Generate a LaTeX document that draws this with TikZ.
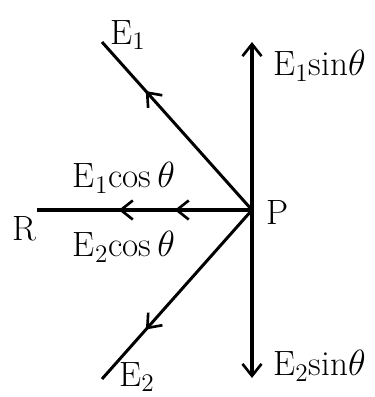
\documentclass[tikz,border=0pt]{standalone}
\usetikzlibrary{arrows.meta, decorations.markings}
\tikzset{
  field/.style={line width=1.7pt},
  comp/.style={line width=2.6pt},
  endtip/.style={-{Straight Barb[length=2.4mm, width=3.8mm, line width=1.5pt]}},
  midarr/.style={postaction={decorate}, decoration={markings,
      mark=at position #1 with {\arrow{Straight Barb[length=2.4mm, width=3.8mm, line width=1.5pt]}}}},
  twoarr/.style 2 args={postaction={decorate}, decoration={markings,
      mark=at position #1 with {\arrow{Straight Barb[length=2.4mm, width=3.8mm, line width=1.5pt]}},
      mark=at position #2 with {\arrow{Straight Barb[length=2.4mm, width=3.8mm, line width=1.5pt]}}}},
  lbl/.style={inner sep=0pt, font=\fontsize{20}{22}\selectfont},
}
\begin{document}
\begin{tikzpicture}[x=0.02cm, y=-0.02cm]
  \useasboundingbox (0,0) rectangle (375,397);
  % points
  \coordinate (P) at (252,210);
  \coordinate (e1) at (102,42);
  \coordinate (e2) at (102,379);
  \coordinate (r) at (37,210);
  \coordinate (up) at (252,42);
  \coordinate (down) at (252,378);
  % fields and components
  \draw[field, midarr=0.71] (P) -- (e1);
  \draw[field, midarr=0.71] (P) -- (e2);
  \draw[comp, twoarr={0.36}{0.62}] (P) -- (r);
  \draw[comp, endtip] (P) -- (up);
  \draw[comp, endtip] (P) -- (down);
  % labels
  \node[lbl] (lE1) at (128,35) {E$_1$};
  \node[lbl] (lE2) at (137,377) {E$_2$};
  \node[lbl] (lP) at (278,212) {P};
  \node[lbl] (lR) at (24,229) {R};
  \node[lbl, anchor=west] (lsin1) at (273,66) {E$_1$sin$\theta$};
  \node[lbl, anchor=west] (lsin2) at (273,366) {E$_2$sin$\theta$};
  \node[lbl] (lcos1) at (124,178) {E$_1$cos$\,\theta$};
  \node[lbl] (lcos2) at (124,247) {E$_2$cos$\,\theta$};
\end{tikzpicture}
\end{document}
